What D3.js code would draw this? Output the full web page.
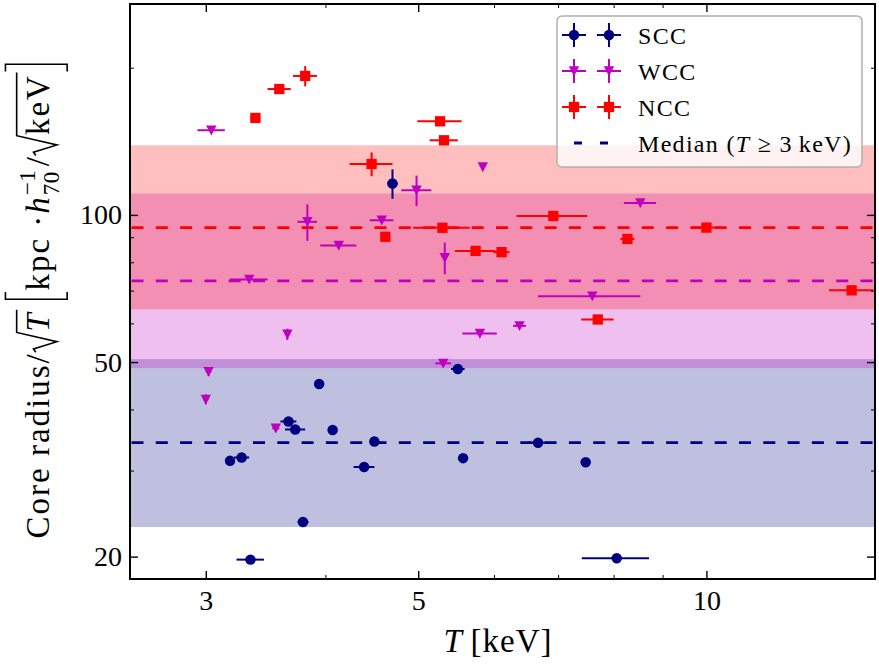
<!DOCTYPE html>
<html lang="en">
<head>
<meta charset="UTF-8">
<title>core radius vs temperature</title>
<script src="https://cdn.jsdelivr.net/npm/d3@7"></script>
<style>
  body{margin:0;background:#fff;}
  svg text{font-family:"Liberation Serif","DejaVu Serif",serif;fill:#000;}
  .axis path.domain{display:none;}
</style>
</head>
<body>
<svg class="chart"></svg>
<script>
// each row: [T, dT, r, dr]
let sccData=[
  [4.70,0.06,115.9,8.0],[3.94,0,45.1,0],[3.66,0.07,37.8,0],[3.72,0.09,36.4,0],
  [4.07,0,36.3,0],[4.50,0.05,34.4,0],[3.18,0,31.4,0],[3.27,0.06,31.9,0],
  [4.39,0.11,30.5,0],[3.79,0.05,23.55,0],[3.34,0.11,19.72,0],[5.50,0.09,48.4,0],
  [5.57,0,31.8,0],[6.67,0.16,34.2,0],[7.48,0,31.2,0],[8.06,0.65,19.85,0]
];
let wccData=[
  [3.04,0.10,149.0,0],[4.98,0.18,112.3,8.0],[5.84,0,125.3,0],[3.83,0.09,96.8,8.3],
  [4.13,0.18,86.6,0],[4.58,0.13,97.5,0],[3.33,0.15,73.8,0],[3.65,0.02,57.0,1.5],
  [3.02,0.02,47.8,1],[3.00,0.02,41.95,1],[3.55,0.03,36.6,0.5],[5.33,0.02,81.7,6.1],
  [5.80,0.24,57.2,0],[6.38,0.10,59.3,0],[5.31,0.10,49.7,0],[7.60,0.93,68.2,0],
  [8.53,0.33,105.8,0]
];
let nccData=[
  [3.38,0.04,157.9,0],[3.58,0.10,180.9,0],[3.81,0.11,192.4,9.2],[4.47,0.23,127.1,7.1],
  [5.27,0.28,155.4,0],[5.32,0.18,142.1,0],[5.30,0.36,94.1,0],[4.62,0.04,90.2,0],
  [5.74,0.28,84.4,0],[6.11,0.12,83.9,0],[6.92,0.59,99.5,0],[8.27,0.14,89.3,0],
  [10.0,0.35,94.2,0],[14.18,0.75,70.1,0],[7.70,0.30,61.1,0]
];
// SCC, WCC, NCC
let groupNames=['SCC','WCC','NCC'];
let medianR=[34.2,73.3,94.2];
let bandLo=[23.0,48.6,64.1];
let bandHi=[50.7,110.6,138.8];

let xMajor=[3,5,10], xMinor=[4,6,7,8,9];
let yMajor=[20,50,100], yMinor=[30,40,60,70,80,90,200];

let colors=['#000080','#bf00bf','#ff0000'];
let shapes=['circle','tri','square'];

let W=879,H=666;
let L=130,R=875,T=4,B=579;

let svg=d3.select('.chart').attr('width',W).attr('height',H);
let x=d3.scaleLog().domain([2.5,15]).range([L,R]);
let y=d3.scaleLog().domain([18,270]).range([B,T]);

// shaded bands (16-84%) and medians
let bands=svg.append('g');
[0,1,2].forEach(i=>{
  bands.append('rect')
    .attr('x',L).attr('width',R-L)
    .attr('y',y(bandHi[i])).attr('height',y(bandLo[i])-y(bandHi[i]))
    .attr('fill',colors[i]).attr('fill-opacity',0.25);
});
[0,1,2].forEach(i=>{
  svg.append('line')
    .attr('x1',L).attr('x2',R).attr('y1',y(medianR[i])).attr('y2',y(medianR[i]))
    .attr('stroke',colors[i]).attr('stroke-width',2.8)
    .attr('stroke-dasharray','12,12.3').attr('stroke-dashoffset',-1.5);
});

function marker(g,kind,color){
  let p=g.append('path').attr('fill',color);
  if(kind=='circle') p.attr('d',d3.symbol(d3.symbolCircle,86)());
  else if(kind=='square') p.attr('d',d3.symbol(d3.symbolSquare,106)());
  else p.attr('d','M-5.2,-4.7L5.2,-4.7L0,5.2Z');
  return p;
}

// data points with error bars
[sccData,wccData,nccData].forEach((data,i)=>{
  let g=svg.append('g').attr('class','grp-'+groupNames[i]);
  data.forEach(d=>{
    if(d[1]>0) g.append('line')
      .attr('x1',x(d[0]-d[1])).attr('x2',x(d[0]+d[1]))
      .attr('y1',y(d[2])).attr('y2',y(d[2]))
      .attr('stroke',colors[i]).attr('stroke-width',2);
    if(d[3]>0) g.append('line')
      .attr('x1',x(d[0])).attr('x2',x(d[0]))
      .attr('y1',y(d[2]-d[3])).attr('y2',y(d[2]+d[3]))
      .attr('stroke',colors[i]).attr('stroke-width',2);
    marker(g,shapes[i],colors[i])
      .attr('transform','translate('+x(d[0])+','+y(d[2])+')');
  });
});

// axes, ticks pointing inward on all sides
function addAxis(axis,tr,vals,size,labels,pad){
  let a=axis.tickValues(vals).tickSize(size).tickPadding(pad||8);
  if(!labels) a.tickFormat('');
  else a.tickFormat(d3.format('d'));
  let g=svg.append('g').attr('class','axis').attr('transform',tr).call(a);
  g.selectAll('line').attr('stroke','#000').attr('stroke-width',size==-8?1.4:1);
  g.selectAll('text').style('font-size','28px').attr('fill','#000');
  return g;
}
addAxis(d3.axisBottom(x),'translate(0,'+B+')',xMajor,-8,true,11);
addAxis(d3.axisBottom(x),'translate(0,'+B+')',xMinor,-4,false);
addAxis(d3.axisTop(x),'translate(0,'+T+')',xMajor,-8,false);
addAxis(d3.axisTop(x),'translate(0,'+T+')',xMinor,-4,false);
addAxis(d3.axisLeft(y),'translate('+L+',0)',yMajor,-8,true,8);
addAxis(d3.axisLeft(y),'translate('+L+',0)',yMinor,-4,false);
addAxis(d3.axisRight(y),'translate('+R+',0)',yMajor,-8,false);
addAxis(d3.axisRight(y),'translate('+R+',0)',yMinor,-4,false);

svg.append('rect').attr('x',L).attr('y',T).attr('width',R-L).attr('height',B-T)
  .attr('fill','none').attr('stroke','#000').attr('stroke-width',2);

// legend
let leg=svg.append('g');
leg.append('rect').attr('x',557).attr('y',16).attr('width',305).attr('height',151)
  .attr('rx',5).attr('fill','#fff').attr('fill-opacity',0.8)
  .attr('stroke','#b0b0b0').attr('stroke-width',1.5);
let rowY=[35,71,107];
groupNames.forEach((name,i)=>{
  [574,609].forEach(cx=>{
    leg.append('line').attr('x1',cx-12).attr('x2',cx+12).attr('y1',rowY[i]).attr('y2',rowY[i])
      .attr('stroke',colors[i]).attr('stroke-width',2);
    leg.append('line').attr('x1',cx).attr('x2',cx).attr('y1',rowY[i]-12).attr('y2',rowY[i]+12)
      .attr('stroke',colors[i]).attr('stroke-width',2);
    marker(leg,shapes[i],colors[i]).attr('transform','translate('+cx+','+rowY[i]+')');
  });
  leg.append('text').attr('x',638).attr('y',rowY[i]+8.5)
    .style('font-size','24px').style('letter-spacing','1.3px').text(name);
});
leg.append('line').attr('x1',574).attr('x2',611).attr('y1',143).attr('y2',143)
  .attr('stroke',colors[0]).attr('stroke-width',2.8).attr('stroke-dasharray','8,18');
let med=leg.append('text').attr('x',638).attr('y',152)
  .style('font-size','24px').style('letter-spacing','1.3px');
med.append('tspan').text('Median (');
med.append('tspan').style('font-style','italic').text('T');
med.append('tspan').text(' \u2265 3\u2009keV)');

// x label
let xl=svg.append('text').attr('x',498).attr('y',652).attr('text-anchor','middle')
  .style('font-size','33px').style('letter-spacing','1px');
xl.append('tspan').style('font-style','italic').text('T');
xl.append('tspan').text('\u2009[keV]');

// y label, laid out piece by piece then rotated
let S=33;
let yl=svg.append('g').attr('transform','translate(49,300) rotate(-90)');
let inner=yl.append('g');
let cx=0;
function put(str,opt){
  opt=opt||{};
  let fs=S*(opt.scale||1);
  let t=inner.append('text').attr('x',cx).attr('y',(opt.dy||0)*S)
    .style('font-size',fs+'px').style('letter-spacing',(opt.ls==null?2:opt.ls)+'px')
    .style('font-style',opt.it?'italic':'normal').text(str);
  let w=t.node().getComputedTextLength();
  if(!opt.stay) cx+=w;
  return w;
}
function radical(str,opt){
  let x0=cx;
  cx+=0.62*S;
  let w=put(str,opt);
  inner.append('path')
    .attr('d','M'+x0+','+(-0.40*S)+'L'+(x0+0.1*S)+','+(-0.47*S)+'L'+(x0+0.32*S)+','+(0.24*S)
      +'L'+(x0+0.6*S)+','+(-0.98*S)+'H'+(cx+0.05*S))
    .attr('fill','none').attr('stroke','#000').attr('stroke-width',1.6);
  cx+=0.08*S;
}
function bracket(left){
  let a=left?cx+0.26*S:cx, b=left?cx+0.04*S:cx+0.22*S;
  inner.append('path')
    .attr('d','M'+a+','+(-1.32*S)+'H'+b+'V'+(0.55*S)+'H'+a)
    .attr('fill','none').attr('stroke','#000').attr('stroke-width',1.6);
  cx+=0.3*S;
}
put('Core radius/');
radical('T',{it:true});
cx+=0.25*S;
bracket(true);
put('kpc \u00b7 ');
put('h',{it:true});
let w1=put('\u22121',{scale:0.7,dy:-0.42,stay:true,ls:0.5});
let w2=put('70',{scale:0.7,dy:0.3,stay:true,ls:0.5});
cx+=Math.max(w1,w2)+0.1*S;
put('/',{ls:0});
cx+=0.05*S;
radical('keV');
bracket(false);
inner.attr('transform','translate('+(-cx/2)+',0)');
</script>
</body>
</html>
